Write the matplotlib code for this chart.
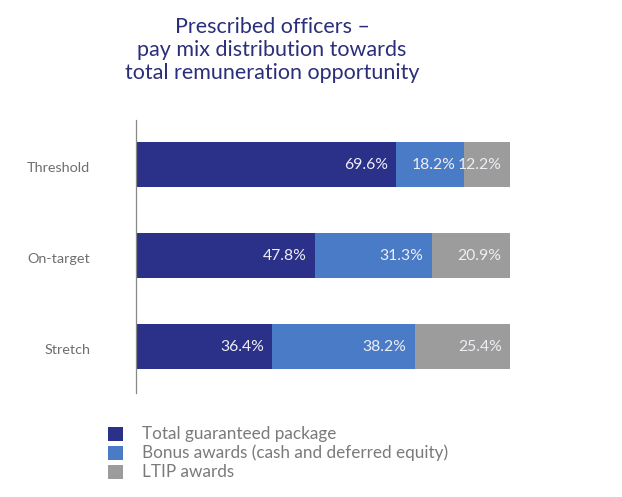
import matplotlib
matplotlib.use("Agg")
import matplotlib.pyplot as plt
from matplotlib.patches import Rectangle

plt.rcParams['font.family'] = ['Lato', 'DejaVu Sans']

categories = ["Threshold", "On-target", "Stretch"]
series_names = ["Total guaranteed package",
                "Bonus awards (cash and deferred equity)",
                "LTIP awards"]
guaranteed = [69.6, 47.8, 36.4]
bonus = [18.2, 31.3, 38.2]
ltip = [12.2, 20.9, 25.4]
colors = ["#2B3088", "#4A7BC6", "#9C9C9C"]

fig = plt.figure(figsize=(6.22, 4.97), dpi=100)
ax = fig.add_axes([136/622, 1-393/497, 374/622, 273/497])

y = list(range(len(categories)))
left = [0]*len(categories)
for vals, c in zip([guaranteed, bonus, ltip], colors):
    ax.barh(y, vals, left=left, height=0.5, color=c, edgecolor='none')
    for yi, l, v in zip(y, left, vals):
        ax.annotate(f"{v:.1f}%", xy=(l+v, yi), xytext=(-6, 0), textcoords='offset points',
                    ha='right', va='center', color='#EEEEF4', fontsize=11.3)
    left = [a+b for a, b in zip(left, vals)]

ax.set_xlim(0, 100)
ax.set_ylim(2.51, -0.49)
ax.set_yticks([yi + 0.03 for yi in y])
ax.set_yticklabels(categories, fontsize=10.4, color='#6E6E6E')
ax.tick_params(axis='y', length=0, pad=33)
ax.set_xticks([])
for s in ['top', 'right', 'bottom']:
    ax.spines[s].set_visible(False)
ax.spines['left'].set_color('#888888')
ax.spines['left'].set_linewidth(0.9)

fig.text(272/622, 1-50/497, "Prescribed officers –\npay mix distribution towards\ntotal remuneration opportunity",
         ha='center', va='center', fontsize=15.5, color='#2B2F7A', linespacing=1.16)

ys = [434, 453, 472]
for name, c, yy in zip(series_names, colors, ys):
    fig.patches.append(Rectangle((108/622, 1-(yy+7)/497), 15/622, 14/497,
                                 transform=fig.transFigure, facecolor=c, edgecolor='none'))
    fig.text(142/622, 1-yy/497, name, ha='left', va='center', fontsize=12.3, color='#7A7A7A')

fig.savefig("out.png", dpi=100)
